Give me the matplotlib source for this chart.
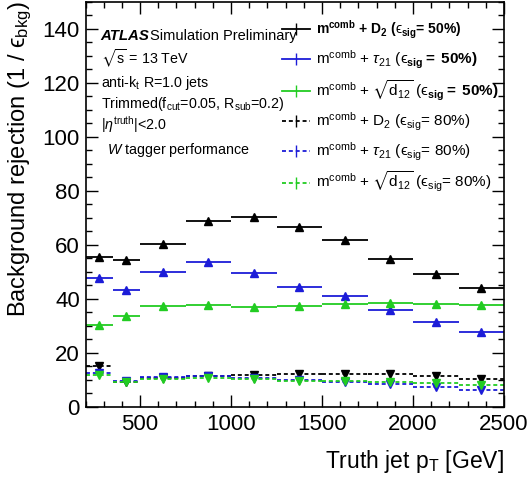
import numpy as np
import matplotlib
matplotlib.use('Agg')
import matplotlib.pyplot as plt
from matplotlib.lines import Line2D
from matplotlib.ticker import MultipleLocator

plt.rcParams['font.family'] = ['Liberation Sans', 'DejaVu Sans']
plt.rcParams['mathtext.fontset'] = 'custom'
plt.rcParams['mathtext.rm'] = 'Liberation Sans'
plt.rcParams['mathtext.it'] = 'Liberation Sans:italic'
plt.rcParams['mathtext.bf'] = 'Liberation Sans:bold'
plt.rcParams['mathtext.sf'] = 'Liberation Sans'
plt.rcParams['mathtext.fallback'] = 'stixsans'

# truth jet pT bin edges [GeV]
edges = np.array([200, 350, 500, 750, 1000, 1250, 1500, 1750, 2000, 2250, 2500])

# background rejection, 50% signal efficiency working point
d2_50 = [55.6, 54.4, 60.5, 68.8, 70.5, 66.6, 61.8, 54.8, 49.1, 44.1]
tau21_50 = [47.8, 43.4, 49.9, 53.6, 49.5, 44.4, 41.0, 35.9, 31.4, 27.7]
d12_50 = [30.5, 33.7, 37.3, 37.7, 36.9, 37.2, 38.2, 38.5, 38.3, 37.6]
# 80% signal efficiency working point
d2_80 = [15.3, 9.4, 10.8, 11.4, 11.9, 12.1, 12.3, 12.3, 11.5, 10.5]
tau21_80 = [12.6, 9.5, 11.0, 11.5, 10.8, 10.1, 9.3, 8.5, 7.3, 6.3]
d12_80 = [11.8, 9.3, 10.4, 10.7, 10.3, 9.8, 9.5, 9.2, 8.8, 8.3]

eps = r'\mathrm{ϵ}'
labels = [
    r'$\mathbf{m^{comb}}$ + $\mathbf{D_{2}}$ ($' + eps + r'_{\mathbf{sig}}$= 50%)',
    r'm$^{\mathrm{comb}}$ + $\tau_{\mathrm{21}}$ ($' + eps + r'_{\mathbf{sig}}$$\mathbf{=\ 50\%)}$',
    r'm$^{\mathrm{comb}}$ + $\sqrt{\mathrm{d_{12}}}$ ($' + eps + r'_{\mathbf{sig}}$$\mathbf{=\ 50\%)}$',
    r'm$^{\mathrm{comb}}$ + D$_{\mathrm{2}}$ ($' + eps + r'_{\mathrm{sig}}$= 80%)',
    r'm$^{\mathrm{comb}}$ + $\tau_{\mathrm{21}}$ ($' + eps + r'_{\mathrm{sig}}$= 80%)',
    r'm$^{\mathrm{comb}}$ + $\sqrt{\mathrm{d_{12}}}$ ($' + eps + r'_{\mathrm{sig}}$= 80%)',
]

black = 'black'
blue = '#1c1cd8'
green = '#22cc22'

series = [
    (d2_50, black, 'solid', '^'),
    (tau21_50, blue, 'solid', '^'),
    (d12_50, green, 'solid', '^'),
    (d2_80, black, (0, (2.2, 1.6)), 'v'),
    (tau21_80, blue, (0, (2.2, 1.6)), 'v'),
    (d12_80, green, (0, (2.2, 1.6)), 'v'),
]

fig = plt.figure(figsize=(5.31, 4.84), dpi=100)
ax = fig.add_axes([85.5 / 531, 1 - 407 / 484, (504 - 85.5) / 531, (407 - 1.7) / 484])

centers = 0.5 * (edges[:-1] + edges[1:])
handles = []
for vals, col, ls, mk in series:
    ax.hlines(vals, edges[:-1], edges[1:], colors=col, linestyles=ls, linewidth=1.3)
    ax.plot(centers, vals, ls='none', marker=mk, color=col, markersize=5.5)
    handles.append(Line2D([], [], color=col, ls=ls, lw=1.3, marker='|', markersize=9,
                          markeredgewidth=1.0))

ax.set_xlim(200, 2500)
ax.set_ylim(0, 150)
ax.xaxis.set_major_locator(MultipleLocator(500))
ax.xaxis.set_minor_locator(MultipleLocator(100))
ax.yaxis.set_major_locator(MultipleLocator(20))
ax.yaxis.set_minor_locator(MultipleLocator(5))
ax.tick_params(which='both', direction='in', top=True, right=True, labelsize=16, width=1)
ax.tick_params(which='major', length=8.5)
ax.tick_params(which='minor', length=4.2)
ax.tick_params(axis='x', pad=5)
ax.tick_params(axis='y', pad=4)
for sp in ax.spines.values():
    sp.set_linewidth(1.2)

ax.set_xlabel(r'Truth jet p$_{\mathrm{T}}$ [GeV]', fontsize=16.5, loc='right')
ax.set_ylabel(r'Background rejection (1 / $' + eps + r'_{\mathrm{bkg}}$)', fontsize=17, loc='top')
ax.xaxis.set_label_coords(1.0, -0.1)
ax.yaxis.set_label_coords(-0.123, 1.0)

leg = ax.legend(handles, labels, loc='upper left', bbox_to_anchor=(282 / 531, 1 - 19 / 484),
                bbox_transform=fig.transFigure, frameon=False, fontsize=11,
                handlelength=1.85, handletextpad=0.4, labelspacing=0.5, borderpad=0,
                borderaxespad=0)
leg.get_texts()[0].set_fontweight('bold')
leg.get_texts()[0].set_fontsize(10)

# ATLAS label block
def px(x, y):
    return x / 531, 1 - y / 484

fig.text(*px(100, 36), 'ATLAS', fontsize=10.8, fontweight='bold', fontstyle='italic', va='center')
fig.text(*px(150, 36), 'Simulation Preliminary', fontsize=10.5, va='center')
fig.text(*px(101, 59), r'$\sqrt{\mathrm{s}}$ = 13 TeV', fontsize=10.3, va='center')
fig.text(*px(101, 83), r'anti-k$_{\mathrm{t}}$ R=1.0 jets', fontsize=10.3, va='center')
fig.text(*px(101, 104), r'Trimmed(f$_{\mathrm{cut}}$=0.05, R$_{\mathrm{sub}}$=0.2)', fontsize=10.3, va='center')
fig.text(*px(101, 125), r'|$\eta^{\mathrm{truth}}$|<2.0', fontsize=10.3, va='center')
fig.text(*px(107, 150), r'$W$ tagger performance', fontsize=10.3, va='center')

fig.savefig('out.png', dpi=100)
